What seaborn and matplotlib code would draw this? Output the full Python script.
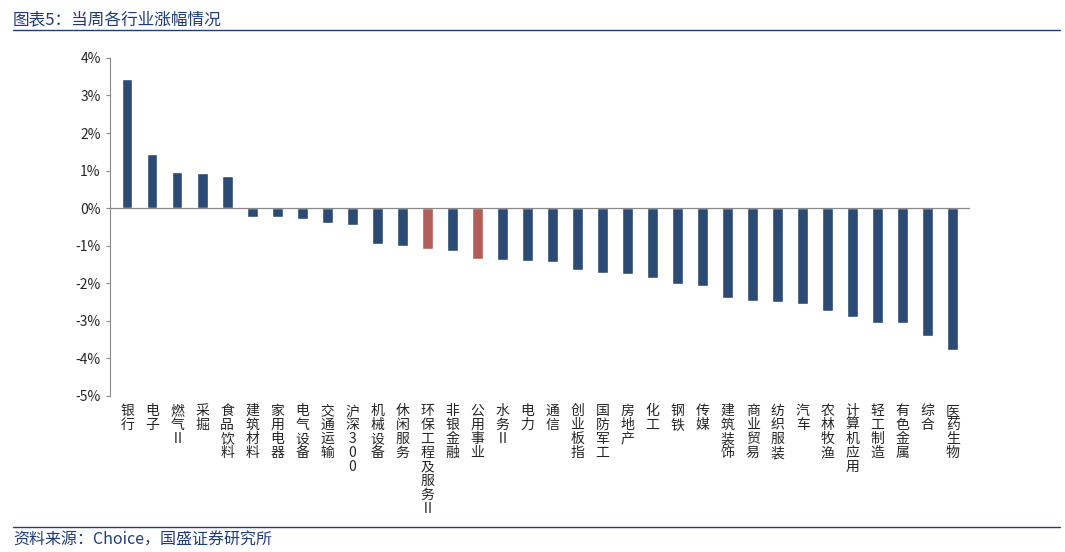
import numpy as np
import pandas as pd
import seaborn as sns
import matplotlib.pyplot as plt
from matplotlib.ticker import FuncFormatter

industries = ["银行", "电子", "燃气Ⅱ", "采掘", "食品饮料", "建筑材料", "家用电器", "电气设备",
              "交通运输", "沪深300", "机械设备", "休闲服务", "环保工程及服务Ⅱ", "非银金融", "公用事业",
              "水务Ⅱ", "电力", "通信", "创业板指", "国防军工", "房地产", "化工", "钢铁", "传媒",
              "建筑装饰", "商业贸易", "纺织服装", "汽车", "农林牧渔", "计算机应用", "轻工制造",
              "有色金属", "综合", "医药生物"]
changes = [3.45, 1.45, 0.95, 0.93, 0.85, -0.25, -0.25, -0.30, -0.40, -0.45, -0.95, -1.02,
           -1.10, -1.15, -1.35, -1.38, -1.40, -1.43, -1.65, -1.72, -1.75, -1.85, -2.02, -2.07,
           -2.40, -2.48, -2.50, -2.55, -2.75, -2.90, -3.05, -3.05, -3.40, -3.77]
highlight = ["环保工程及服务Ⅱ", "公用事业"]

df = pd.DataFrame({"industry": industries, "change": changes})
df["group"] = np.where(df["industry"].isin(highlight), "hl", "base")

sns.set_style("white")
plt.rcParams['font.family'] = ['Noto Sans CJK SC', 'DejaVu Sans']

fig = plt.figure(figsize=(10.65, 5.52), dpi=100)
ax = fig.add_axes([0.103, 0.283, 0.808, 0.612])
sns.barplot(data=df, x="industry", y="change", hue="group",
            palette={"base": "#1F4A80", "hl": "#C0504D"}, width=0.42,
            dodge=False, legend=False, ax=ax)

ax.set_ylim(-5, 4)
ax.set_yticks(range(-5, 5))
ax.yaxis.set_major_formatter(FuncFormatter(lambda v, p: f"{int(v)}%"))
ax.set_xlim(-0.7, len(industries) - 0.3)
ax.set_xlabel("")
ax.set_ylabel("")
ax.axhline(0, color="#888888", lw=0.9)
ax.set_xticks(range(len(industries)))
ax.set_xticklabels(["\n".join(s) for s in industries], fontsize=10, linespacing=1.0, va="top")
ax.tick_params(axis="x", length=0, pad=6)
ax.tick_params(axis="y", labelsize=10, length=3, left=True, color="#888888")
for s in ["top", "right", "bottom"]:
    ax.spines[s].set_visible(False)
ax.spines["left"].set_color("#888888")

fig.text(0.012, 0.965, "图表5：当周各行业涨幅情况", fontsize=12, color="#1F3C7A",
         style="italic", va="center")
fig.add_artist(plt.Line2D([0.012, 0.995], [0.945, 0.945], color="#1F3C7A", lw=1))
fig.add_artist(plt.Line2D([0.012, 0.995], [0.045, 0.045], color="#1F3C7A", lw=1))
fig.text(0.012, 0.022, "资料来源：Choice，国盛证券研究所", fontsize=11.5, color="#1F3C7A",
         style="italic", va="center")

fig.savefig("out.png", dpi=100)
